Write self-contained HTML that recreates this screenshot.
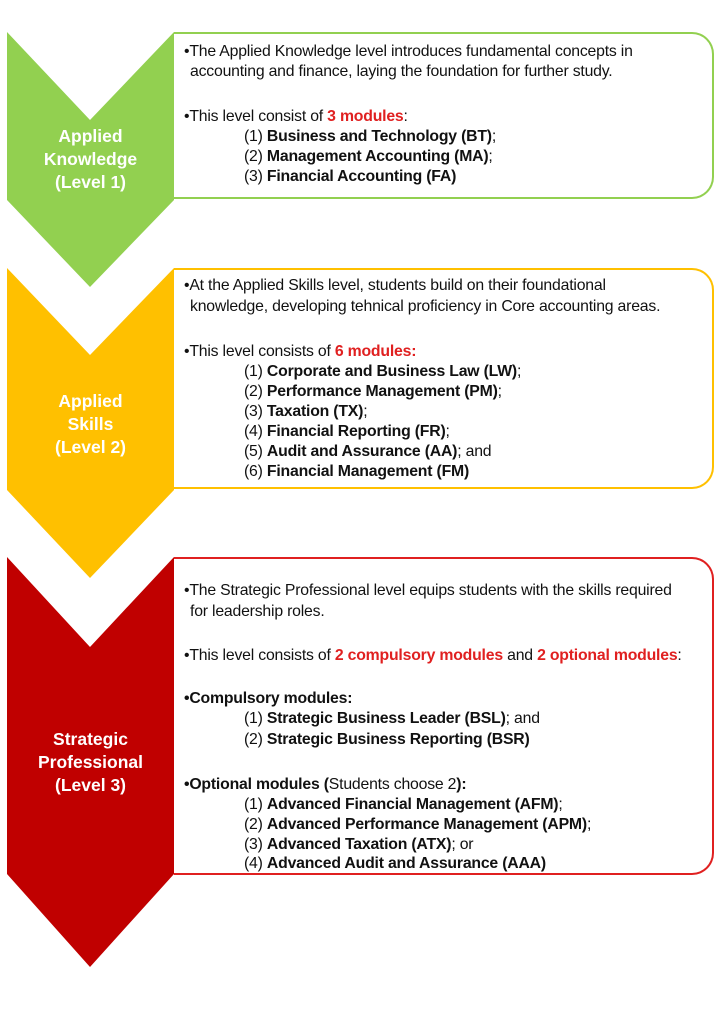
<!DOCTYPE html>
<html><head><meta charset="utf-8"><style>
body{margin:0;width:724px;height:1024px;background:#fff;position:relative;overflow:hidden;font-family:"Liberation Sans",sans-serif;}
.box{position:absolute;left:174px;width:540px;border:2px solid;border-left:none;border-radius:0 22px 22px 0;box-sizing:border-box;}
.t{position:absolute;font-size:15.8px;color:#111;white-space:nowrap;letter-spacing:-0.2px;line-height:18px;}
.i{left:244px;}
.r{color:#e02020;font-weight:bold;}
.lab{position:absolute;left:7px;width:167px;text-align:center;color:#fff;font-weight:bold;font-size:17.5px;line-height:23px;}
</style></head><body>
<svg width="724" height="1024" style="position:absolute;left:0;top:0">
<polygon points="7,32 90,120 174,32 174,200 90,287 7,200" fill="#92d050"/>
<polygon points="7,268 90,355 174,268 174,490 90,578 7,490" fill="#ffc000"/>
<polygon points="7,557 90,647 174,557 174,874 90,967 7,874" fill="#c00000"/>
</svg>
<div class="box" style="top:32px;height:167px;border-color:#92d050"></div>
<div class="box" style="top:268px;height:221px;border-color:#ffc000"></div>
<div class="box" style="top:557px;height:318px;border-color:#e02020"></div>

<div class="lab" style="top:125px">Applied<br>Knowledge<br>(Level 1)</div>
<div class="lab" style="top:390px">Applied<br>Skills<br>(Level 2)</div>
<div class="lab" style="top:728px">Strategic<br>Professional<br>(Level 3)</div>

<div class="t" style="left:184px;top:43px">•The Applied Knowledge level introduces fundamental concepts in</div>
<div class="t" style="left:190px;top:63px">accounting and finance, laying the foundation for further study.</div>
<div class="t" style="left:184px;top:108px">•This level consist of <span class="r">3 modules</span>:</div>
<div class="t i" style="top:128px">(1) <b>Business and Technology (BT)</b>;</div>
<div class="t i" style="top:148px">(2) <b>Management Accounting (MA)</b>;</div>
<div class="t i" style="top:168px">(3) <b>Financial Accounting (FA)</b></div>

<div class="t" style="left:184px;top:277px">•At the Applied Skills level, students build on their foundational</div>
<div class="t" style="left:190px;top:298px">knowledge, developing tehnical proficiency in Core accounting areas.</div>
<div class="t" style="left:184px;top:343px">•This level consists of <span class="r">6 modules:</span></div>
<div class="t i" style="top:363px">(1) <b>Corporate and Business Law (LW)</b>;</div>
<div class="t i" style="top:383px">(2) <b>Performance Management (PM)</b>;</div>
<div class="t i" style="top:403px">(3) <b>Taxation (TX)</b>;</div>
<div class="t i" style="top:423px">(4) <b>Financial Reporting (FR)</b>;</div>
<div class="t i" style="top:443px">(5) <b>Audit and Assurance (AA)</b>; and</div>
<div class="t i" style="top:463px">(6) <b>Financial Management (FM)</b></div>

<div class="t" style="left:184px;top:582px">•The Strategic Professional level equips students with the skills required</div>
<div class="t" style="left:190px;top:603px">for leadership roles.</div>
<div class="t" style="left:184px;top:647px">•This level consists of <span class="r">2 compulsory modules</span> and <span class="r">2 optional modules</span>:</div>
<div class="t" style="left:184px;top:690px"><b>•Compulsory modules:</b></div>
<div class="t i" style="top:710px">(1) <b>Strategic Business Leader (BSL)</b>; and</div>
<div class="t i" style="top:731px">(2) <b>Strategic Business Reporting (BSR)</b></div>
<div class="t" style="left:184px;top:776px"><b>•Optional modules (</b>Students choose 2<b>):</b></div>
<div class="t i" style="top:796px">(1) <b>Advanced Financial Management (AFM)</b>;</div>
<div class="t i" style="top:816px">(2) <b>Advanced Performance Management (APM)</b>;</div>
<div class="t i" style="top:836px">(3) <b>Advanced Taxation (ATX)</b>; or</div>
<div class="t i" style="top:855px">(4) <b>Advanced Audit and Assurance (AAA)</b></div>
</body></html>
